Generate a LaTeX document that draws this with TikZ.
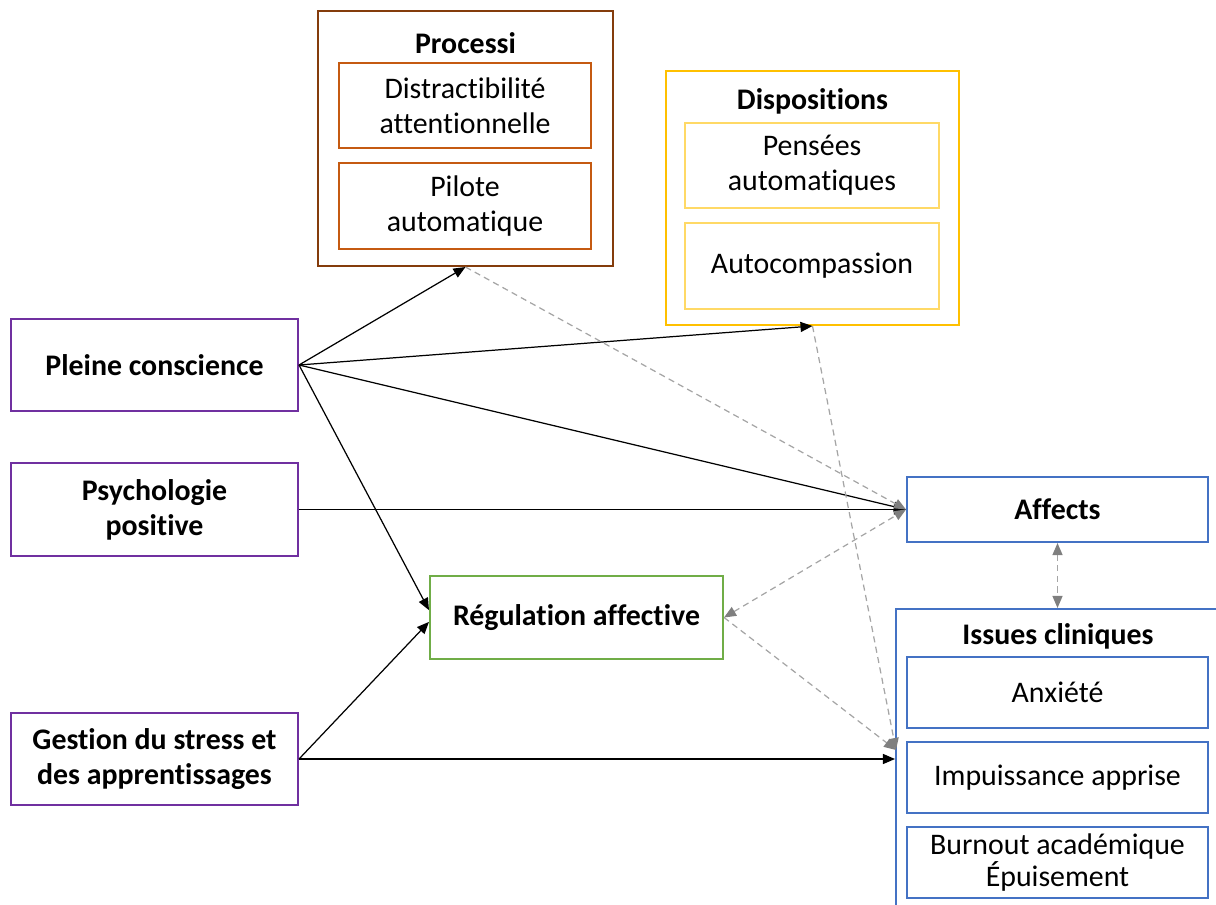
\documentclass[tikz,border=0pt]{standalone}
\usepackage{fontspec}
\setmainfont{Carlito}[Ligatures=NoCommon]
\usepackage{tikz}
\usetikzlibrary{positioning,arrows.meta,calc}
\definecolor{procbrun}{RGB}{132,60,12}
\definecolor{procorange}{RGB}{197,90,17}
\definecolor{dispor}{RGB}{255,192,0}
\definecolor{dispclair}{RGB}{255,217,102}
\definecolor{mauve}{RGB}{112,48,160}
\definecolor{vertreg}{RGB}{112,173,71}
\definecolor{bleuiss}{RGB}{68,114,196}
\definecolor{grisclair}{RGB}{165,165,165}
\definecolor{grisfonce}{RGB}{127,127,127}

\begin{document}
\begin{tikzpicture}[
  x=0.02cm,y=-0.02cm,
  line width=0.7pt,
  every node/.style={font=\fontsize{17}{20}\selectfont,align=center,inner sep=0pt},
  outer/.style={draw,line width=1.2pt},
  inner/.style={draw,line width=1pt},
  title/.style={font=\fontsize{17}{20}\selectfont\bfseries},
  link/.style={-{Triangle[length=2.4mm,width=2mm]},black},
  weak/.style={dash pattern=on 3.5pt off 2.5pt,draw=grisclair,
    -{Triangle[length=2.4mm,width=2mm,color=grisfonce]}},
  both weak/.style={weak,
    {Triangle[length=2.4mm,width=2mm,color=grisfonce]}-{Triangle[length=2.4mm,width=2mm,color=grisfonce]}}
]

\useasboundingbox (0,0) rectangle (1216,905);
\clip (0,0) rectangle (1216,905);

% ==================================================
% Processi
% ==================================================
\node[outer,draw=procbrun,minimum width=5.9cm,minimum height=5.1cm]
  (proc) at (465.5,138.5) {};
\node[title] (proct) at (465.5,43) {Processi};
\node[inner,draw=procorange,minimum width=5.04cm,minimum height=1.7cm]
  (distr) at (465,105.5) {Distractibilité\\attentionnelle};
\node[inner,draw=procorange,minimum width=5.04cm,minimum height=1.72cm]
  (pilote) at (465,206) {Pilote\\automatique};

% ==================================================
% Dispositions
% ==================================================
\node[outer,draw=dispor,minimum width=5.86cm,minimum height=5.08cm]
  (disp) at (812.5,198) {};
\node[title] (dispt) at (812.5,101) {Dispositions};
\node[inner,draw=dispclair,minimum width=5.08cm,minimum height=1.7cm]
  (pensees) at (812,165.5) {Pensées\\automatiques};
\node[inner,draw=dispclair,minimum width=5.08cm,minimum height=1.72cm]
  (autocomp) at (812,266) {\raisebox{-2pt}{Autocompassion}};

% ==================================================
% Interventions (gauche)
% ==================================================
\node[outer,draw=mauve,minimum width=5.74cm,minimum height=1.84cm,title]
  (pleine) at (154.5,365) {Pleine conscience};
\node[outer,draw=mauve,minimum width=5.74cm,minimum height=1.86cm,title]
  (psycho) at (154.5,509.5) {Psychologie\\positive};
\node[outer,draw=mauve,minimum width=5.74cm,minimum height=1.84cm,title]
  (gestion) at (154.5,759) {Gestion du stress et\\des apprentissages};

% régulation
\node[outer,draw=vertreg,minimum width=5.86cm,minimum height=1.66cm,title]
  (regul) at (576.5,617.5) {Régulation affective};

% ==================================================
% Affects et issues cliniques
% ==================================================
\node[outer,draw=bleuiss,minimum width=6.02cm,minimum height=1.3cm,title]
  (affects) at (1057.5,509.5) {Affects};

\node[outer,draw=bleuiss,minimum width=6.52cm,minimum height=6.12cm]
  (issues) at (1059,762) {};
\node[title] (issuest) at (1058,636) {Issues cliniques};
\node[inner,draw=bleuiss,minimum width=6.02cm,minimum height=1.42cm]
  (anxiete) at (1057.5,692.5) {Anxiété};
\node[inner,draw=bleuiss,minimum width=6.02cm,minimum height=1.42cm]
  (impuiss) at (1057.5,777.5) {Impuissance apprise};
\node[inner,draw=bleuiss,minimum width=6.02cm,minimum height=1.42cm,
  font=\fontsize{17}{18.5}\selectfont]
  (burnout) at (1057.5,862.5) {Burnout académique\\Épuisement};

\coordinate (issin) at (896,750);

% ==================================================
% Liens
% ==================================================
% liens directs
\draw[link] (pleine.east) -- (proc.south);
\draw[link] (pleine.east) -- (disp.south);
\draw[link] (pleine.east) -- (affects.west);
\draw[link] (pleine.east) -- ([yshift=4.2pt]regul.west);
\draw[link] (psycho.east) -- (affects.west);
\draw[link] (gestion.east) -- ([yshift=-2.5pt]regul.west);
\draw[link] (gestion.east) -- (gestion.east -| issues.west);

% liens médiés
\draw[weak] (proc.south) -- (affects.west);
\draw[weak] (disp.south) -- (issin);
\draw[weak] (regul.east) -- (issin);
\draw[both weak] (regul.east) -- (affects.west);
\draw[both weak] (affects.south) -- (affects.south |- issues.north);

\end{tikzpicture}
\end{document}
